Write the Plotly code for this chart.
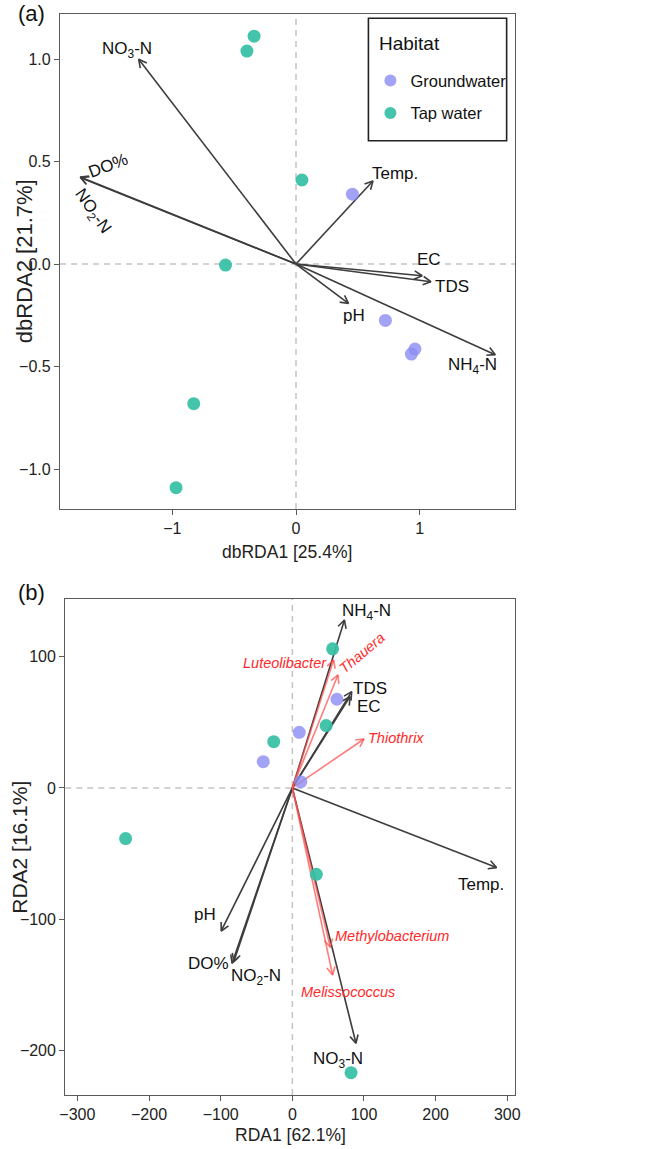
import math
import plotly.graph_objects as go

# ---------------- data ----------------
# panel (a) dbRDA
a_ground_x = [0.456, 0.723, 0.962, 0.933]
a_ground_y = [0.341, -0.275, -0.415, -0.439]
a_tap_x = [-0.339, -0.397, 0.048, -0.570, -0.827, -0.970]
a_tap_y = [1.112, 1.039, 0.410, -0.005, -0.681, -1.091]
a_env = ["NO<sub>3</sub>-N", "DO%", "NO<sub>2</sub>-N", "Temp.", "EC", "TDS", "pH", "NH<sub>4</sub>-N"]
a_env_x = [-1.272, -1.741, -1.745, 0.622, 1.020, 1.091, 0.424, 1.611]
a_env_y = [0.999, 0.421, 0.425, 0.405, -0.057, -0.086, -0.192, -0.442]
a_xticks = [-1, 0, 1]
a_xticktext = ["\u22121", "0", "1"]
a_yticks = [-1.0, -0.5, 0.0, 0.5, 1.0]
a_yticktext = ["\u22121.0", "\u22120.5", "0.0", "0.5", "1.0"]

# panel (b) RDA
b_ground_x = [62.2, 9.6, -40.6, 11.9]
b_ground_y = [67.6, 42.4, 20.0, 4.8]
b_tap_x = [56.2, 47.2, -26.0, -232.7, 33.5, 81.9]
b_tap_y = [106.0, 47.5, 35.3, -38.6, -65.8, -217.0]
b_env = ["NH<sub>4</sub>-N", "TDS", "EC", "Temp.", "pH", "DO%", "NO<sub>2</sub>-N", "NO<sub>3</sub>-N"]
b_env_x = [72.7, 82.8, 80.5, 284.9, -99.2, -84.1, -81.8, 88.8]
b_env_y = [128.0, 73.4, 69.6, -60.7, -109.0, -133.6, -132.4, -194.6]
b_taxa = ["Luteolibacter", "Thauera", "Thiothrix", "Methylobacterium", "Melissococcus"]
b_taxa_x = [57.6, 63.6, 100.0, 53.0, 56.2]
b_taxa_y = [97.6, 86.1, 37.3, -121.4, -142.5]
b_xticks = [-300, -200, -100, 0, 100, 200, 300]
b_xticktext = ["\u2212300", "\u2212200", "\u2212100", "0", "100", "200", "300"]
b_yticks = [-200, -100, 0, 100]
b_yticktext = ["\u2212200", "\u2212100", "0", "100"]

# ---------------- layout geometry (pixels) ----------------
W, H = 646, 1149
FONT = "Liberation Sans, Arial, sans-serif"
A_BOX = (55.0, 517.7, 14.0, 509.0)      # left, right, top, bottom
B_BOX = (60.3, 518.0, 599.0, 1095.0)
A_XR, A_YR = [-1.908, 1.770], [-1.195, 1.22]
B_XR, B_YR = [-316.9, 311.0], [-234.0, 144.0]
LEG_BOX = (368.7, 509.3, 18.3, 140.7)

# label offsets (px) relative to arrow tips: (dx, dy_down, angle)
a_lab = [(-12, -9, 0), (28, -12, -21), (12, 35, 55), (22, -8, 0), (7, -16, 0),
         (21, 5, 0), (6, 12, 0), (-23, 11, 0)]
b_lab = [(22, -8, 0), (18, -3, 0), (19, 10, 0), (-15, 17, 0), (-16, -16, 0),
         (-24, 0, 0), (22, 15, 0), (-18, 17, 0)]
b_tlab = [(-49, 3, 0), (24, -22, -40), (32, -1, 0), (62, -11, 0), (15, 17, 0)]

GROUND_C = "rgba(140,140,242,0.8)"
TAP_C = "rgba(55,191,166,0.93)"
ARROW_C = "#3d3d3d"
RED_ARROW_C = "rgba(255,80,80,0.75)"
RED_TXT = "#ff2a2a"
LAB_SIZE = 17
TICK_SIZE = 16


def dom(box):
    l, r, t, b = box
    return [l / W, r / W], [1 - b / H, 1 - t / H]


def scale(box, xr, yr):
    l, r, t, b = box
    return (r - l) / (xr[1] - xr[0]), (b - t) / (yr[1] - yr[0])


def arrow_path(xs, ys, sx, sy, L=9.0, ang=28.0):
    X, Y = [], []
    ca, sa = math.cos(math.radians(ang)), math.sin(math.radians(ang))
    for tx, ty in zip(xs, ys):
        px, py = tx * sx, ty * sy
        n = math.hypot(px, py)
        ux, uy = -px / n, -py / n
        X += [0, tx, None]
        Y += [0, ty, None]
        pts = []
        for s in (1, -1):
            bx = ux * ca - uy * s * sa
            by = ux * s * sa + uy * ca
            pts.append((tx + L * bx / sx, ty + L * by / sy))
        X += [pts[0][0], tx, pts[1][0], None]
        Y += [pts[0][1], ty, pts[1][1], None]
    return X, Y


fig = go.Figure()

sxa, sya = scale(A_BOX, A_XR, A_YR)
sxb, syb = scale(B_BOX, B_XR, B_YR)

ax_, ay_ = arrow_path(a_env_x, a_env_y, sxa, sya)
fig.add_trace(go.Scatter(x=ax_, y=ay_, mode="lines", line=dict(color=ARROW_C, width=1.6),
                         showlegend=False, hoverinfo="skip", xaxis="x", yaxis="y"))
bx_, by_ = arrow_path(b_env_x, b_env_y, sxb, syb)
fig.add_trace(go.Scatter(x=bx_, y=by_, mode="lines", line=dict(color=ARROW_C, width=1.6),
                         showlegend=False, hoverinfo="skip", xaxis="x2", yaxis="y2"))
rx_, ry_ = arrow_path(b_taxa_x, b_taxa_y, sxb, syb)
fig.add_trace(go.Scatter(x=rx_, y=ry_, mode="lines", line=dict(color=RED_ARROW_C, width=1.6),
                         showlegend=False, hoverinfo="skip", xaxis="x2", yaxis="y2"))

MS = 13
fig.add_trace(go.Scatter(x=a_ground_x, y=a_ground_y, mode="markers", name="Groundwater",
                         legendgroup="g", marker=dict(color=GROUND_C, size=MS), xaxis="x", yaxis="y"))
fig.add_trace(go.Scatter(x=a_tap_x, y=a_tap_y, mode="markers", name="Tap water",
                         legendgroup="t", marker=dict(color=TAP_C, size=MS), xaxis="x", yaxis="y"))
fig.add_trace(go.Scatter(x=b_ground_x, y=b_ground_y, mode="markers", name="Groundwater",
                         legendgroup="g", marker=dict(color=GROUND_C, size=MS), xaxis="x2", yaxis="y2",
                         showlegend=False))
fig.add_trace(go.Scatter(x=b_tap_x, y=b_tap_y, mode="markers", name="Tap water",
                         legendgroup="t", marker=dict(color=TAP_C, size=MS), xaxis="x2", yaxis="y2",
                         showlegend=False))

ann = []
for t, x, y, (dx, dy, an) in zip(a_env, a_env_x, a_env_y, a_lab):
    ann.append(dict(text=t, x=x, y=y, xref="x", yref="y", showarrow=False,
                    xshift=dx, yshift=-dy, textangle=an,
                    font=dict(size=LAB_SIZE, color="#111", family=FONT)))
for t, x, y, (dx, dy, an) in zip(b_env, b_env_x, b_env_y, b_lab):
    ann.append(dict(text=t, x=x, y=y, xref="x2", yref="y2", showarrow=False,
                    xshift=dx, yshift=-dy, textangle=an,
                    font=dict(size=LAB_SIZE, color="#111", family=FONT)))
for t, x, y, (dx, dy, an) in zip(b_taxa, b_taxa_x, b_taxa_y, b_tlab):
    ann.append(dict(text="<i>" + t + "</i>", x=x, y=y, xref="x2", yref="y2", showarrow=False,
                    xshift=dx, yshift=-dy, textangle=an,
                    font=dict(size=14.5, color=RED_TXT, family=FONT)))


def paper(px, py):
    return px / W, 1 - py / H


for txt, (px, py), ang, sz in [("dbRDA1 [25.4%]", (286, 551.7), 0, 17.5),
                               ("dbRDA2 [21.7%]", (19, 261.5), -90, 22),
                               ("RDA1 [62.1%]", (289, 1135), 0, 17.5),
                               ("RDA2 [16.1%]", (13, 847), -90, 21)]:
    x, y = paper(px, py)
    ann.append(dict(text=txt, x=x, y=y, xref="paper", yref="paper", showarrow=False,
                    textangle=ang, xanchor="center", yanchor="middle",
                    font=dict(size=sz, color="#222", family=FONT)))
for txt, (px, py) in [("(a)", (26, 14)), ("(b)", (26, 592))]:
    x, y = paper(px, py)
    ann.append(dict(text=txt, x=x, y=y, xref="paper", yref="paper", showarrow=False,
                    xanchor="center", yanchor="middle",
                    font=dict(size=22, color="#111", family=FONT)))

# legend title (drawn inside the legend frame)
lx, ly = paper(LEG_BOX[0] + 9, LEG_BOX[2] + 25)
ann.append(dict(text="Habitat", x=lx, y=ly, xref="paper", yref="paper", showarrow=False,
                xanchor="left", yanchor="middle", font=dict(size=19, color="#111", family=FONT)))

shapes = []
for xa, ya in [("x", "y"), ("x2", "y2")]:
    shapes.append(dict(type="line", xref=xa, yref=ya + " domain", x0=0, x1=0, y0=0, y1=1,
                       line=dict(color="#c4c4c4", width=1.5, dash="6px,5px"), layer="below"))
    shapes.append(dict(type="line", xref=xa + " domain", yref=ya, x0=0, x1=1, y0=0, y1=0,
                       line=dict(color="#c4c4c4", width=1.5, dash="6px,5px"), layer="below"))
bx0, by0 = paper(LEG_BOX[0], LEG_BOX[3])
bx1, by1 = paper(LEG_BOX[1], LEG_BOX[2])
shapes.append(dict(type="rect", xref="paper", yref="paper", x0=bx0, x1=bx1, y0=by0, y1=by1,
                   line=dict(color="#222", width=1.6), fillcolor="white", layer="above"))

axis_common = dict(showgrid=False, zeroline=False, showline=True, mirror=True,
                   linecolor="#5a5a5a", linewidth=1.3, ticks="outside", ticklen=5,
                   tickcolor="#5a5a5a", tickwidth=1.2,
                   tickfont=dict(size=TICK_SIZE, color="#222", family=FONT))

xda, yda = dom(A_BOX)
xdb, ydb = dom(B_BOX)

fig.update_layout(
    width=W, height=H, margin=dict(l=0, r=0, t=0, b=0),
    paper_bgcolor="white", plot_bgcolor="white",
    font=dict(family=FONT),
    xaxis=dict(domain=xda, range=A_XR, anchor="y", tickvals=a_xticks, ticktext=a_xticktext, **axis_common),
    yaxis=dict(domain=yda, range=A_YR, anchor="x", tickvals=a_yticks, ticktext=a_yticktext, **axis_common),
    xaxis2=dict(domain=xdb, range=B_XR, anchor="y2", tickvals=b_xticks, ticktext=b_xticktext, **axis_common),
    yaxis2=dict(domain=ydb, range=B_YR, anchor="x2", tickvals=b_yticks, ticktext=b_yticktext, **axis_common),
    annotations=ann, shapes=shapes,
    legend=dict(x=(LEG_BOX[0] + 2) / W, y=1 - (LEG_BOX[2] + 45) / H, xanchor="left", yanchor="top",
                bgcolor="rgba(0,0,0,0)", borderwidth=0,
                font=dict(size=16.5, color="#111", family=FONT),
                itemsizing="constant", tracegroupgap=8),
    showlegend=True,
)

fig.write_html("out.html")
